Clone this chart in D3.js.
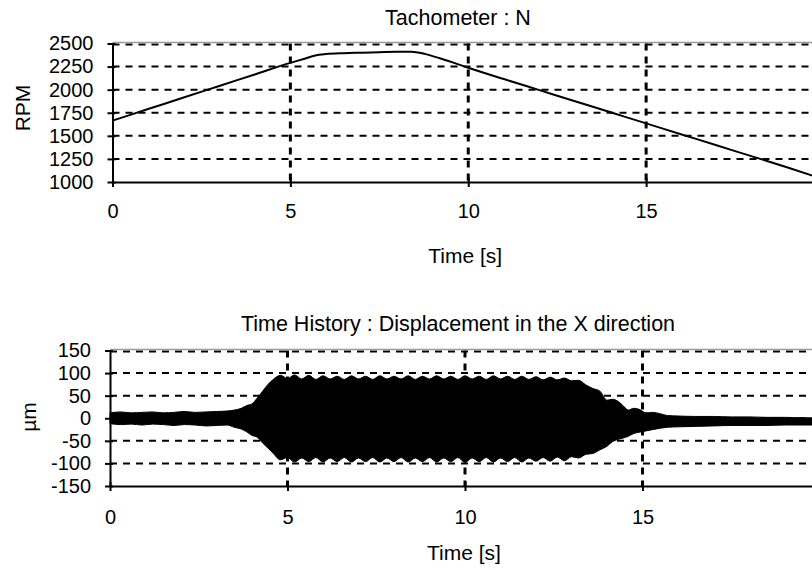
<!DOCTYPE html>
<html lang="en">
<head>
<meta charset="utf-8">
<title>Tachometer / Time History</title>
<style>
body {
  margin: 0;
  background: #fff;
}
svg {
  display: block;
  font-family: "Liberation Sans", Arial, sans-serif;
}
</style>
</head>
<body>
<div id="app"></div>
<script src="https://d3js.org/d3.v7.min.js"></script>
<script>
// Tachometer : N
const rpmTime  = [0, 1, 2, 3, 4, 5, 5.4, 5.7, 6, 6.5, 7, 7.5, 8, 8.4, 8.8, 9.2, 9.6, 10, 11, 12, 13, 14, 15, 16, 17, 18, 19, 20];
const rpmValue = [1665, 1790, 1915, 2040, 2165, 2290, 2335, 2370, 2385, 2395, 2400, 2405, 2410, 2412, 2385, 2340, 2290, 2238,
                  2115, 1995, 1875, 1755, 1635, 1515, 1395, 1275, 1155, 1028];
const rpmTicks = [1000, 1250, 1500, 1750, 2000, 2250, 2500];

// Displacement in the X direction: upper / lower envelope of the signal, in µm
const envTime  = [0, 0.3, 0.6, 0.9, 1.2, 1.5, 1.8, 2.1, 2.4, 2.7, 3.0, 3.3, 3.5, 3.7, 3.85, 4.0, 4.15, 4.3, 4.45, 4.6,
                  4.8, 5.0, 5.2, 5.4, 5.6, 5.8, 6.0, 6.2, 6.4, 6.6, 6.8, 7.0, 7.2, 7.4, 7.6, 7.8, 8.0, 8.2, 8.4, 8.6,
                  8.8, 9.0, 9.2, 9.4, 9.6, 9.8, 10.0, 10.2, 10.4, 10.6, 10.8, 11.0, 11.2, 11.4, 11.6, 11.8, 12.0, 12.2,
                  12.4, 12.6, 12.8, 13.0, 13.2, 13.4, 13.6, 13.8, 14.0, 14.15, 14.3, 14.45, 14.6, 14.75, 14.9, 15.1,
                  15.3, 15.5, 15.7, 16.0, 16.5, 17.0, 17.5, 18.0, 18.5, 19.0, 19.5, 20];
const envUpper = [12, 14, 12, 13, 14, 12, 13, 15, 13, 14, 15, 16, 18, 22, 28, 32, 45, 60, 75, 86,
                  95, 88, 96, 87, 95, 86, 94, 87, 93, 86, 94, 87, 93, 86, 94, 87, 93, 87, 94, 86,
                  93, 87, 94, 87, 93, 86, 94, 87, 93, 86, 94, 87, 93, 86, 93, 86, 92, 85,
                  91, 85, 89, 83, 84, 74, 66, 60, 40, 42, 38, 28, 18, 22, 20, 12,
                  13, 10, 6, 5, 4, 4, 3, 3, 2, 2, 1, 1];
const envLower = [-12, -14, -13, -15, -13, -14, -16, -14, -15, -17, -16, -15, -20, -24, -30, -38, -42, -55, -66, -78,
                  -92, -87, -97, -88, -96, -87, -97, -88, -96, -87, -97, -88, -96, -87, -97, -88, -96, -87, -97, -88,
                  -96, -87, -97, -88, -96, -87, -98, -88, -96, -87, -97, -88, -96, -87, -97, -88, -95, -87,
                  -95, -86, -94, -85, -88, -80, -78, -70, -62, -52, -47, -44, -40, -34, -31, -28,
                  -25, -22, -20, -19, -18, -17, -16, -16, -16, -15, -15, -15];
const dispTicks = [-150, -100, -50, 0, 50, 100, 150];

const timeTicks = [0, 5, 10, 15];

const width = 812,
      height = 570;

const svg = d3.select("#app").append("svg")
    .attr("width", width)
    .attr("height", height)
    .attr("viewBox", [0, 0, width, height]);

// one chart panel: grid, frame, axes and labels
function panel(p) {
  const x = d3.scaleLinear().domain([0, 20]).range([p.left, p.right]);
  const y = d3.scaleLinear().domain(d3.extent(p.yTicks)).range([p.bottom, p.top]);
  const g = svg.append("g");

  // horizontal dashed grid
  g.append("g")
    .selectAll("line")
    .data(p.yTicks.slice(1))
    .join("line")
      .attr("x1", p.left)
      .attr("x2", p.right)
      .attr("y1", d => y(d) + (d === p.yTicks[p.yTicks.length - 1] ? 1 : 0))
      .attr("y2", d => y(d) + (d === p.yTicks[p.yTicks.length - 1] ? 1 : 0))
      .attr("stroke", "#000")
      .attr("stroke-width", 2)
      .attr("stroke-dasharray", "7,6");

  // vertical dashed grid
  g.append("g")
    .selectAll("line")
    .data(timeTicks.slice(1))
    .join("line")
      .attr("x1", d => x(d))
      .attr("x2", d => x(d))
      .attr("y1", p.top)
      .attr("y2", p.bottom)
      .attr("stroke", "#000")
      .attr("stroke-width", 3)
      .attr("stroke-dasharray", "7,6");

  // grey top border of the plot area
  g.append("line")
    .attr("x1", p.left)
    .attr("x2", p.right)
    .attr("y1", p.top - 1)
    .attr("y2", p.top - 1)
    .attr("stroke", "#9a9a9a")
    .attr("stroke-width", 1.5);

  const data = g.append("g");

  const xAxis = g.append("g")
      .attr("transform", `translate(0,${p.bottom})`)
      .call(d3.axisBottom(x).tickValues(timeTicks).tickFormat(String)
          .tickSize(5).tickSizeOuter(0).tickPadding(p.xPad))
      .attr("font-size", 20)
      .attr("font-family", null);
  xAxis.selectAll(".tick line").attr("y1", -4).attr("stroke-width", 2);
  xAxis.select(".domain").attr("stroke-width", 2);

  const yAxis = g.append("g")
      .attr("transform", `translate(${p.left},0)`)
      .call(d3.axisLeft(y).tickValues(p.yTicks).tickFormat(String)
          .tickSize(5).tickSizeOuter(0).tickPadding(14))
      .attr("font-size", 20)
      .attr("font-family", null);
  yAxis.selectAll(".tick line").attr("x1", 3).attr("stroke-width", 2);
  yAxis.select(".domain").attr("stroke-width", 2);

  g.append("text")
    .attr("x", 458)
    .attr("y", p.titleY)
    .attr("text-anchor", "middle")
    .attr("font-size", 21.5)
    .text(p.title);

  g.append("text")
    .attr("x", (p.left + 824) / 2 - 3)
    .attr("y", p.xLabelY)
    .attr("text-anchor", "middle")
    .attr("font-size", 21)
    .text("Time [s]");

  g.append("text")
    .attr("transform", `translate(${p.yLabelX},${p.yLabelY}) rotate(-90)`)
    .attr("text-anchor", "middle")
    .attr("font-size", 21)
    .text(p.yLabel);

  return {x, y, data};
}

// upper panel: tachometer
const tach = panel({
  left: 112.5, right: 824, top: 43.5, bottom: 182,
  yTicks: rpmTicks, xPad: 17,
  title: "Tachometer : N", titleY: 25,
  xLabelY: 263,
  yLabel: "RPM", yLabelX: 30, yLabelY: 108
});

tach.data.append("path")
    .datum(d3.zip(rpmTime, rpmValue))
    .attr("fill", "none")
    .attr("stroke", "#000")
    .attr("stroke-width", 2)
    .attr("d", d3.line()
        .curve(d3.curveMonotoneX)
        .x(d => tach.x(d[0]))
        .y(d => tach.y(d[1])));

// lower panel: displacement time history
const disp = panel({
  left: 110, right: 820, top: 350.5, bottom: 486,
  yTicks: dispTicks, xPad: 19,
  title: "Time History : Displacement in the X direction", titleY: 331,
  xLabelY: 560,
  yLabel: "µm", yLabelX: 36, yLabelY: 417
});

disp.data.append("path")
    .datum(d3.range(envTime.length))
    .attr("fill", "#000")
    .attr("stroke", "#000")
    .attr("stroke-width", 1)
    .attr("d", d3.area()
        .curve(d3.curveMonotoneX)
        .x(i => disp.x(envTime[i]))
        .y0(i => disp.y(envLower[i]))
        .y1(i => disp.y(envUpper[i])));
</script>
</body>
</html>
